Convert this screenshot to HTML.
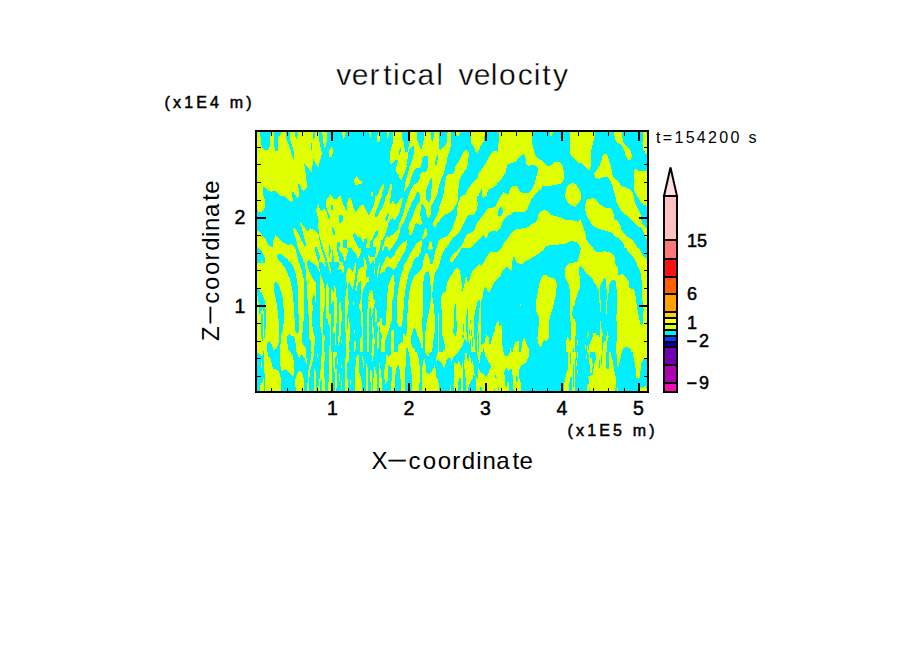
<!DOCTYPE html>
<html><head><meta charset="utf-8"><title>vertical velocity</title>
<style>
html,body{margin:0;padding:0;background:#fff;}
body{width:904px;height:654px;overflow:hidden;font-family:"Liberation Sans",sans-serif;}
svg{display:block;}
text{font-family:"Liberation Sans",sans-serif;fill:#000;}
.b{font-weight:bold;}
</style></head><body>
<svg width="904" height="654" viewBox="0 0 904 654">
<rect x="0" y="0" width="904" height="654" fill="#fff"/>
<!-- plot field -->
<g id="field" shape-rendering="crispEdges">
<rect x="256" y="131" width="392" height="261" fill="#dfff00"/>
<clipPath id="c0"><rect x="255" y="130" width="100" height="66"/></clipPath>
<g clip-path="url(#c0)"><rect x="255" y="130" width="100" height="66" fill="#dfff00"/>
<polygon fill="#00efff" points="260.3,131.8 260.8,143.3 262.7,148.8 264.4,149.9 268.3,149.7 269.9,145.5 270.5,135.5 271.0,131.8"/>
<polygon fill="#00efff" points="274.0,131.8 274.4,146.6 275.1,150.5 277.7,150.8 278.2,136.6 280.4,135.0 281.0,131.8"/>
<polygon fill="#00efff" points="285.8,131.8 286.2,138.3 288.2,143.3 292.1,155.4 293.7,159.9 294.3,153.8 292.6,147.1 290.4,141.1 289.8,131.8"/>
<polygon fill="#00efff" points="294.8,131.8 295.0,136.6 296.5,138.8 297.6,136.1 297.9,131.8"/>
<polygon fill="#00efff" points="311.1,143.1 310.9,149.9 312.0,149.9 312.2,143.1"/>
<polygon fill="#00efff" points="313.1,131.8 313.3,138.8 314.7,138.3 315.6,131.8"/>
<polygon fill="#00efff" points="319.2,131.8 319.4,141.1 320.3,146.6 321.9,152.1 321.4,156.0 319.2,163.2 318.6,167.1 316.9,165.4 313.3,159.0 312.7,163.2 311.6,172.0 310.3,170.9 308.1,167.6 304.2,164.1 305.3,169.8 306.1,178.7 307.0,183.1 306.8,187.5 304.2,190.8 302.0,190.3 299.2,183.1 298.1,184.2 298.7,189.7 299.2,196.0 355.0,196.0 355.0,131.8"/>
<polygon fill="#dfff00" points="322.3,131.8 323.0,142.2 324.7,148.8 325.8,146.6 326.9,138.8 327.1,131.8"/>
<polygon fill="#dfff00" points="331.3,147.1 329.3,150.5 328.9,156.5 331.9,157.1 333.0,152.1 333.0,147.7"/>
<polygon fill="#dfff00" points="341.8,131.8 343.3,139.4 344.6,136.6 345.7,131.8"/>
<polygon fill="#dfff00" points="354.0,179.2 354.0,182.9 355.0,182.9 355.0,179.2"/>
<polygon fill="#dfff00" points="328.0,196.0 329.1,195.0 330.8,195.3 331.3,196.0"/>
<polygon fill="#00efff" points="263.0,187.0 265.0,187.3 267.2,190.3 271.6,191.6 275.5,190.6 278.8,193.9 280.2,196.0 263.0,196.0"/>
<polygon fill="#00efff" points="292.1,192.2 293.2,191.9 296.2,196.0 292.1,196.0"/>
</g>
<clipPath id="c1"><rect x="355" y="130" width="100" height="66"/></clipPath>
<g clip-path="url(#c1)"><rect x="355" y="130" width="100" height="66" fill="#00efff"/>
<polygon fill="#dfff00" points="369.2,131.8 369.9,137.7 371.0,137.2 371.4,131.8"/>
<polygon fill="#dfff00" points="377.7,131.8 377.1,141.1 378.2,142.7 379.6,140.5 380.2,131.8"/>
<polygon fill="#dfff00" points="355.0,178.1 357.0,175.9 359.4,180.3 362.2,181.4 361.9,184.2 355.0,184.8"/>
<polygon fill="#dfff00" points="371.4,192.5 372.9,191.9 372.7,196.0 371.4,196.0"/>
<polygon fill="#dfff00" points="377.1,196.0 378.8,191.9 382.1,184.8 384.0,184.0 383.5,188.6 381.5,196.0"/>
<polygon fill="#dfff00" points="387.1,196.0 388.2,191.9 391.0,184.2 391.8,184.4 391.5,189.7 390.6,196.0"/>
<polygon fill="#dfff00" points="397.4,174.2 397.6,176.0 400.4,179.8 402.0,178.9 404.0,176.0 404.0,174.2"/>
<polygon fill="#dfff00" points="409.2,196.0 410.3,191.9 412.5,186.4 414.7,183.1 417.8,182.2 420.3,174.2 421.4,163.2 455.0,163.2 455.0,196.0"/>
<polygon fill="#dfff00" points="407.9,174.2 408.7,178.7 409.8,182.0 410.9,178.7 412.3,174.2"/>
<polygon fill="#00efff" points="415.8,196.0 417.5,191.4 419.4,196.0"/>
<polygon fill="#00efff" points="431.9,177.8 430.2,179.8 428.0,186.4 426.7,191.9 428.6,190.3 430.8,184.2 432.4,179.2"/>
<polygon fill="#00efff" points="443.5,172.0 443.1,176.0 441.3,182.0 439.6,189.7 438.8,196.0 443.5,196.0 444.4,187.5 446.2,176.0 446.8,172.0"/>
</g>
<clipPath id="c2"><rect x="385" y="130" width="70" height="46"/></clipPath>
<g clip-path="url(#c2)"><rect x="385" y="130" width="70" height="46" fill="#dfff00"/>
<polygon fill="#00efff" points="385.0,131.9 393.5,131.9 393.1,140.1 392.4,144.7 390.8,149.4 390.0,153.2 390.3,162.5 391.6,164.5 394.3,161.0 397.4,159.0 397.8,161.0 397.0,166.4 396.2,173.4 397.4,176.0 385.0,176.0"/>
<polygon fill="#dfff00" points="386.9,131.9 387.2,137.7 388.1,137.4 388.9,131.9"/>
<polygon fill="#00efff" points="401.9,131.9 402.4,139.3 404.0,143.9 405.0,151.7 407.5,152.5 408.2,148.6 410.2,140.8 410.2,131.9"/>
<polygon fill="#00efff" points="413.7,145.9 411.7,146.6 409.8,148.6 408.2,153.2 407.5,159.4 405.9,166.4 404.7,171.8 404.0,176.0 407.8,176.0 409.0,170.3 410.6,164.8 412.5,159.4 413.8,153.2 414.0,146.3"/>
<polygon fill="#00efff" points="416.7,131.9 417.1,140.1 419.1,144.7 421.4,149.7 422.2,146.3 423.7,140.8 424.1,131.9"/>
<polygon fill="#00efff" points="431.1,131.9 431.2,140.1 432.4,141.6 433.6,137.7 434.6,131.9"/>
<polygon fill="#00efff" points="439.2,131.9 439.2,149.4 440.4,149.7 443.9,147.0 446.2,144.7 446.9,140.1 447.6,131.9"/>
<polygon fill="#00efff" points="450.8,131.9 450.8,145.5 449.3,151.7 447.7,156.3 446.2,164.8 444.6,171.8 443.1,176.0 446.2,176.0 448.5,174.5 453.1,173.4 455.0,169.5 455.0,131.9"/>
<polygon fill="#00efff" points="423.7,156.3 428.0,155.9 428.0,162.5 427.6,168.7 425.3,171.8 422.2,172.2 420.2,176.0 412.1,176.0 414.0,170.3 416.0,167.6 419.1,167.0 420.2,167.9 421.4,164.1 422.2,158.7"/>
<polygon fill="#00efff" points="437.3,155.2 435.7,158.7 435.2,165.6 436.1,166.0 437.3,162.5 438.0,155.6"/>
<polygon fill="#00efff" points="400.1,148.2 399.1,151.7 398.9,154.8 399.9,154.8 400.9,150.9 401.0,148.4"/>
</g>
<clipPath id="c3"><rect x="455" y="130" width="100" height="66"/></clipPath>
<g clip-path="url(#c3)"><rect x="455" y="130" width="100" height="66" fill="#dfff00"/>
<polygon fill="#00efff" points="455.0,131.8 499.2,131.8 499.2,136.6 498.1,146.6 497.6,151.6 493.7,151.0 490.4,153.8 487.6,159.9 483.8,166.5 478.8,172.6 477.7,177.6 471.6,184.2 468.3,188.6 465.5,194.2 462.7,196.0 457.8,196.0 458.3,189.7 459.4,179.8 461.6,175.4 466.6,168.7 468.3,161.0 468.8,152.1 466.6,150.1 463.8,151.0 461.6,155.4 458.9,161.0 455.0,167.1"/>
<polygon fill="#dfff00" points="471.0,131.8 471.4,144.4 474.0,146.6 475.5,152.1 477.7,152.7 480.4,146.6 484.0,141.1 484.9,131.8"/>
<polygon fill="#dfff00" points="455.6,131.8 455.9,135.0 458.3,136.4 460.0,133.3 460.0,131.8"/>
<polygon fill="#00efff" points="531.9,131.8 532.4,144.4 534.1,152.1 536.9,157.7 542.4,161.0 546.8,165.4 549.6,166.0 555.0,162.1 555.0,131.8"/>
<polygon fill="#dfff00" points="550.1,131.8 550.4,136.1 552.3,135.5 552.9,131.8"/>
<polygon fill="#00efff" points="523.0,154.3 520.3,156.0 515.8,161.5 510.3,163.2 507.0,165.4 505.9,172.0 501.5,178.7 495.9,185.3 492.6,188.1 488.2,189.7 486.5,196.0 500.9,196.0 503.6,192.2 506.2,193.5 508.9,193.5 510.2,188.6 513.3,185.5 516.4,185.5 518.2,187.7 519.5,191.3 522.1,192.8 528.8,192.8 531.9,189.1 534.1,185.1 535.9,178.9 537.7,171.8 537.7,168.7 536.3,166.0 533.5,164.8 528.0,166.0 526.3,163.2 525.8,158.8 524.7,154.9"/>
<polygon fill="#00efff" points="555.0,185.3 552.2,185.5 546.0,186.0 542.9,185.5 540.7,189.5 537.2,192.2 533.0,196.0 555.0,196.0"/>
<polygon fill="#00efff" points="481.5,189.2 479.9,191.4 478.5,196.0 481.5,196.0 482.1,191.9"/>
</g>
<clipPath id="c4"><rect x="555" y="130" width="93" height="66"/></clipPath>
<g clip-path="url(#c4)"><rect x="555" y="130" width="93" height="66" fill="#00efff"/>
<polygon fill="#dfff00" points="570.5,131.8 569.9,153.2 571.6,156.5 578.2,162.6 581.5,163.2 584.9,166.0 588.2,170.4 590.2,169.8 591.0,163.2 591.3,149.9 593.2,142.2 594.6,136.6 594.6,131.8"/>
<polygon fill="#dfff00" points="555.0,161.5 559.4,161.5 562.2,164.3 563.8,170.9 563.8,179.8 561.1,183.7 555.0,184.8"/>
<polygon fill="#dfff00" points="565.0,196.0 566.1,188.6 568.8,184.2 572.1,182.9 576.0,184.2 578.8,188.6 581.0,193.1 581.0,196.0"/>
<polygon fill="#dfff00" points="604.8,153.8 602.6,156.0 599.8,165.4 595.9,170.9 594.3,173.7 595.4,178.1 599.2,178.7 603.7,177.0 607.5,177.0 610.3,180.9 612.5,186.4 615.3,196.0 634.1,196.0 632.4,191.9 628.0,188.1 621.4,185.9 618.1,180.9 614.2,177.6 612.0,174.2 611.4,167.6 608.7,159.3 606.8,154.6"/>
<polygon fill="#dfff00" points="614.2,131.8 614.7,138.8 616.9,142.7 621.4,144.9 624.1,149.9 625.8,156.5 628.6,160.4 631.3,160.4 631.9,154.9 630.2,149.9 626.9,146.6 623.6,143.3 622.5,137.7 622.3,131.8"/>
<polygon fill="#dfff00" points="642.9,131.8 643.5,140.0 642.4,143.3 643.5,149.9 646.8,154.9 647.4,131.8"/>
<polygon fill="#dfff00" points="634.1,170.4 636.3,168.7 639.1,171.5 647.0,170.9 647.0,196.0 636.9,196.0 634.1,189.7"/>
</g>
<clipPath id="c5"><rect x="255" y="196" width="100" height="66"/></clipPath>
<g clip-path="url(#c5)"><rect x="255" y="196" width="100" height="66" fill="#00efff"/>
<polygon fill="#dfff00" points="256.8,196.0 263.8,196.0 265.0,201.5 264.7,208.2 261.6,212.6 258.3,211.5 256.8,208.2"/>
<polygon fill="#dfff00" points="284.9,196.0 288.2,199.9 291.5,201.8 293.2,200.4 292.1,196.0"/>
<polygon fill="#dfff00" points="295.9,196.0 297.6,197.7 299.0,197.1 298.7,196.0"/>
<polygon fill="#dfff00" points="256.8,231.2 259.4,231.4 262.7,235.8 266.1,240.2 269.4,246.3 272.7,246.9 273.3,240.2 275.5,235.3 279.3,238.6 283.8,243.0 288.2,244.7 291.5,244.1 294.3,245.8 297.0,251.3 299.2,256.3 303.7,259.6 307.0,262.0 265.5,262.0 265.2,259.1 263.3,254.1 260.0,249.1 256.8,245.8"/>
<polygon fill="#00efff" points="277.1,255.7 278.8,253.5 281.0,253.5 286.0,257.9 289.3,262.0 280.4,262.0 277.7,259.1"/>
<polygon fill="#dfff00" points="261.1,262.0 261.6,261.0 263.0,261.3 263.3,262.0"/>
<polygon fill="#dfff00" points="318.6,204.3 316.9,207.1 316.2,210.4 317.5,215.9 318.6,218.1 355.0,218.1 355.0,209.3 352.9,202.6 351.2,198.2 349.0,198.2 347.9,202.6 347.4,210.4 343.5,206.0 341.8,200.4 340.2,196.0 337.4,199.3 334.1,199.3 331.3,196.0 328.0,197.1 326.3,200.4 326.3,207.1 327.5,211.5 324.1,208.2 322.5,210.4 321.4,211.5 319.7,208.2"/>
<polygon fill="#00efff" points="330.8,205.4 333.0,204.8 333.5,209.3 331.9,210.9 330.8,208.7"/>
<polygon fill="#00efff" points="339.6,215.9 342.4,215.4 342.9,218.7 341.3,222.5 339.3,222.5 339.1,218.7"/>
<polygon fill="#00efff" points="325.8,209.3 326.9,209.1 329.7,215.9 330.2,218.7 328.9,218.1 326.9,213.7"/>
</g>
<clipPath id="c6"><rect x="285" y="216" width="70" height="46"/></clipPath>
<g clip-path="url(#c6)"><rect x="285" y="216" width="70" height="46" fill="#dfff00"/>
<polygon fill="#00efff" points="285.0,216.0 317.9,216.0 318.7,220.6 318.1,226.1 318.9,232.3 317.5,232.6 315.6,231.1 311.7,228.8 310.2,228.0 308.6,231.5 305.9,229.2 302.8,225.3 300.5,222.0 300.1,223.7 301.6,227.6 302.8,232.3 304.4,238.5 305.9,243.1 306.1,246.6 304.4,245.8 301.6,240.8 298.9,234.6 296.6,230.3 294.3,228.2 293.1,229.9 294.7,235.4 296.6,240.8 297.8,247.0 298.9,250.1 300.5,253.9 302.4,257.8 303.2,262.0 298.6,262.0 297.4,256.3 295.8,250.1 294.3,246.2 292.0,244.3 288.5,244.7 285.0,244.3"/>
<polygon fill="#00efff" points="285.0,257.8 286.9,258.2 288.5,260.5 288.9,262.0 285.0,262.0"/>
<polygon fill="#00efff" points="318.3,231.5 319.5,236.1 321.4,243.1 323.7,250.1 326.0,256.3 327.4,262.0 325.7,262.0 323.7,255.5 321.4,248.5 319.8,241.6 318.5,235.4"/>
<polygon fill="#00efff" points="315.2,247.0 316.7,247.0 318.3,251.6 319.8,256.3 319.1,262.0 317.9,262.0 316.7,256.3 315.2,250.8"/>
<polygon fill="#00efff" points="307.1,262.0 308.2,259.4 309.8,260.5 310.2,262.0"/>
<polygon fill="#00efff" points="328.8,245.0 329.9,245.0 330.7,250.1 330.3,256.3 329.1,256.7 328.8,250.8"/>
<polygon fill="#00efff" points="337.0,244.7 339.6,241.2 341.1,243.1 342.3,247.0 340.8,249.3 339.2,250.8 340.8,253.9 343.1,257.0 344.6,260.5 346.2,260.1 346.9,252.4 349.3,245.4 350.8,245.0 352.4,250.8 355.0,251.6 355.0,262.0 339.6,262.0 338.4,254.7 337.3,249.3"/>
<polygon fill="#00efff" points="343.1,240.4 346.9,239.1 347.3,245.4 346.2,247.7 344.2,248.1 343.1,244.7"/>
<polygon fill="#00efff" points="353.1,232.6 355.0,231.9 355.0,239.2 353.5,238.5 352.8,235.4"/>
<polygon fill="#00efff" points="331.8,227.2 333.0,226.8 334.9,231.5 334.9,235.0 333.4,235.0 332.2,231.5"/>
<polygon fill="#00efff" points="339.2,216.8 340.4,216.0 342.7,216.0 343.2,219.1 341.5,222.6 339.6,222.8 339.0,219.9"/>
<polygon fill="#00efff" points="328.0,216.0 330.1,216.0 329.8,219.1 328.4,217.5"/>
<polygon fill="#00efff" points="331.5,249.3 332.4,249.3 333.6,256.3 334.2,262.0 332.4,262.0 331.8,256.3"/>
</g>
<clipPath id="c7"><rect x="335" y="196" width="80" height="52"/></clipPath>
<g clip-path="url(#c7)"><rect x="335" y="196" width="80" height="52" fill="#dfff00"/>
<polygon fill="#00efff" points="335.0,196.0 339.0,196.0 337.2,198.2 335.0,199.7"/>
<polygon fill="#00efff" points="340.3,196.0 341.6,198.7 343.8,205.7 346.1,210.2 347.4,211.9 347.2,204.0 348.3,198.7 350.9,198.2 352.3,202.2 353.1,207.5 355.4,211.9 357.1,211.0 359.3,206.6 361.5,204.8 363.8,205.3 365.5,209.3 368.6,215.0 371.3,210.6 373.5,205.7 374.8,201.3 375.9,196.0"/>
<polygon fill="#00efff" points="339.4,215.5 341.6,215.0 343.1,217.2 342.5,220.8 340.8,223.0 339.0,222.5 338.7,218.1"/>
<polygon fill="#00efff" points="336.8,248.0 336.9,244.2 339.0,241.0 339.9,242.0 339.4,248.0"/>
<polygon fill="#00efff" points="343.4,240.1 345.6,239.2 346.9,239.8 346.9,248.0 343.4,248.0"/>
<polygon fill="#00efff" points="354.0,232.1 353.1,234.9 354.0,238.5 356.2,242.9 358.5,248.0 365.5,248.0 366.9,242.0 366.7,238.3 364.6,238.9 363.3,242.7 362.0,240.2 360.8,237.2 357.6,236.7 356.1,234.5"/>
<polygon fill="#00efff" points="376.6,230.1 377.9,230.1 377.5,234.1 375.3,238.5 373.1,242.0 373.1,248.0 370.4,248.0 369.1,245.6 371.3,242.9 373.9,237.6 375.7,233.2"/>
<polygon fill="#00efff" points="385.6,235.0 392.0,235.0 388.1,242.0 384.6,248.0 381.0,248.0 381.9,243.8 383.7,238.5"/>
<polygon fill="#00efff" points="396.2,235.0 408.8,235.0 407.6,240.2 405.8,240.2 402.3,243.8 397.8,248.0 388.1,248.0 391.6,242.0"/>
<polygon fill="#00efff" points="412.8,235.0 415.0,235.0 415.0,248.0 407.6,248.0 407.6,242.0 410.2,238.5"/>
</g>
<clipPath id="c8"><rect x="375" y="196" width="60" height="39"/></clipPath>
<g clip-path="url(#c8)"><rect x="375" y="196" width="60" height="39" fill="#00efff"/>
<polygon fill="#dfff00" points="375.0,196.0 382.0,196.0 380.3,199.3 379.0,204.0 377.0,209.3 375.0,213.9"/>
<polygon fill="#dfff00" points="385.6,196.0 390.9,196.0 390.3,200.0 390.1,204.6 391.3,204.0 392.6,201.0 394.9,202.6 396.6,204.0 398.6,202.0 400.6,199.0 402.2,198.0 402.9,199.3 401.9,203.3 400.9,207.3 399.6,211.3 398.2,214.6 396.2,217.9 394.6,219.9 392.6,218.2 390.9,218.9 389.3,221.2 387.9,225.2 386.6,229.8 385.6,235.0 378.0,235.0 377.7,230.5 376.3,231.8 375.0,233.8 375.0,216.9 377.0,216.6 378.7,213.9 380.3,210.6 382.3,207.3 384.0,204.0 385.0,200.0"/>
<polygon fill="#00efff" points="388.6,212.9 387.3,214.3 385.6,217.9 385.0,220.2 386.3,220.9 387.9,218.2 388.9,215.2"/>
<polygon fill="#dfff00" points="408.2,196.0 414.8,196.0 414.2,199.3 412.2,202.6 410.2,206.6 408.2,211.3 406.2,216.6 404.2,221.9 401.5,225.9 399.6,230.5 397.6,233.2 396.2,235.0 391.9,235.0 394.2,233.2 396.9,231.2 398.6,227.2 399.2,223.9 401.2,219.2 402.9,214.6 404.2,210.6 405.2,206.0 406.9,201.3"/>
<polygon fill="#dfff00" points="420.1,196.0 426.1,196.0 426.4,199.3 428.8,203.0 431.4,201.0 432.1,198.7 431.4,196.0 435.0,196.0 435.0,200.0 432.7,202.0 431.7,206.6 431.4,212.6 430.4,217.2 429.1,217.9 427.1,215.2 426.1,211.3 425.1,207.3 423.8,204.0 422.1,203.0 420.8,205.3 420.1,210.6 420.1,217.9 421.8,220.2 422.1,222.5 420.8,224.9 418.5,224.9 417.8,223.2 416.1,223.2 414.8,225.9 413.5,229.8 412.8,235.0 408.8,235.0 408.2,229.2 408.8,224.5 410.8,220.6 412.8,215.9 414.8,209.9 416.8,205.3 418.8,202.0 419.8,199.3"/>
<polygon fill="#dfff00" points="423.1,235.0 423.1,229.2 424.4,228.2 425.8,228.9 426.8,230.5 426.8,235.0"/>
<polygon fill="#dfff00" points="435.0,220.9 434.1,221.6 433.1,223.9 433.3,226.9 435.0,227.2"/>
</g>
<clipPath id="c9"><rect x="415" y="196" width="80" height="52"/></clipPath>
<g clip-path="url(#c9)"><rect x="415" y="196" width="80" height="52" fill="#00efff"/>
<polygon fill="#dfff00" points="415.0,209.3 417.2,204.8 419.9,200.9 420.3,196.0 426.1,196.0 426.5,200.0 428.3,202.6 430.9,200.9 431.8,196.0 436.2,196.0 435.8,199.5 433.1,202.2 431.4,205.7 430.9,213.7 430.0,217.2 428.3,217.7 426.5,215.0 425.6,209.3 423.8,204.8 422.1,203.5 420.8,206.6 420.3,213.7 420.8,218.1 422.1,222.5 420.8,224.8 418.5,224.3 416.8,223.0 415.0,223.9"/>
<polygon fill="#dfff00" points="442.9,196.0 458.4,196.0 457.9,200.4 456.2,204.8 453.1,209.3 450.0,212.8 447.7,213.7 445.1,214.1 442.4,217.2 439.3,220.8 436.7,224.3 435.8,226.5 433.6,226.5 433.1,223.4 435.4,218.1 437.1,215.5 438.9,209.3 440.2,203.1 441.5,198.7"/>
<polygon fill="#dfff00" points="461.0,196.0 476.9,196.0 477.4,200.4 477.8,204.8 476.5,210.2 474.3,214.6 471.6,215.0 468.1,215.5 465.9,219.0 463.2,224.3 461.0,228.7 459.2,232.3 456.6,234.9 453.1,237.6 450.4,241.1 448.2,245.1 446.4,248.0 437.1,248.0 437.6,243.8 438.9,240.2 441.1,238.0 445.1,237.2 447.7,235.4 450.8,231.4 453.1,226.1 455.7,219.0 457.0,213.7 457.5,206.6 458.8,201.3"/>
<polygon fill="#dfff00" points="481.8,196.0 483.6,197.8 484.9,196.0"/>
<polygon fill="#dfff00" points="495.0,207.1 492.0,207.9 489.3,207.5 487.1,208.8 484.9,212.8 481.4,217.2 477.8,221.7 476.1,225.2 475.2,228.7 473.0,231.4 469.9,233.2 466.8,234.9 464.6,238.5 463.2,242.9 461.0,246.4 459.2,248.0 470.3,248.0 472.5,245.6 476.9,242.0 480.5,238.5 483.6,234.9 485.8,238.5 487.1,236.7 488.5,233.2 490.7,231.4 495.0,230.1"/>
<polygon fill="#dfff00" points="423.4,229.2 424.7,228.0 426.1,229.2 426.9,232.3 426.5,235.8 424.3,237.6 422.5,238.9 422.1,236.7 423.0,233.2"/>
<polygon fill="#dfff00" points="415.0,244.2 418.5,241.1 421.6,240.2 421.9,248.0 415.0,248.0"/>
<polygon fill="#dfff00" points="428.3,248.0 429.2,242.9 430.5,241.1 431.8,242.0 432.7,248.0"/>
</g>
<clipPath id="c10"><rect x="495" y="196" width="80" height="52"/></clipPath>
<g clip-path="url(#c10)"><rect x="495" y="196" width="80" height="52" fill="#dfff00"/>
<polygon fill="#00efff" points="495.0,196.0 500.8,196.0 498.5,200.4 496.3,204.8 495.0,206.2"/>
<polygon fill="#00efff" points="533.9,196.0 564.9,196.0 565.8,199.5 568.5,203.1 572.0,205.7 575.0,206.6 575.0,221.2 572.9,219.5 568.5,219.5 564.9,219.5 560.5,217.2 556.1,216.4 551.6,215.0 549.0,212.8 546.8,210.6 543.2,210.2 540.1,212.4 538.4,215.0 537.5,219.0 535.7,222.1 532.2,223.9 528.6,227.0 525.5,227.9 521.5,228.7 516.7,228.7 513.6,231.0 510.0,234.9 507.4,239.4 504.3,242.0 503.0,245.6 501.2,248.0 495.0,248.0 495.0,231.0 497.2,231.8 500.3,228.7 502.1,223.4 503.8,219.5 507.4,215.9 510.9,214.6 514.0,211.9 525.1,211.8 527.3,209.3 529.1,204.8 531.3,199.5"/>
<polygon fill="#00efff" points="499.0,207.9 501.2,207.1 503.0,209.3 502.5,212.8 501.2,215.5 498.5,215.9 498.1,211.9"/>
<polygon fill="#00efff" points="575.0,241.6 571.1,241.1 568.5,242.0 564.9,244.2 558.7,244.5 549.9,245.1 546.3,246.4 545.0,248.0 575.0,248.0"/>
</g>
<clipPath id="c11"><rect x="575" y="196" width="73" height="52"/></clipPath>
<g clip-path="url(#c11)"><rect x="575" y="196" width="73" height="52" fill="#00efff"/>
<polygon fill="#dfff00" points="575.0,196.0 581.2,196.0 580.8,200.0 577.7,204.0 575.0,207.1"/>
<polygon fill="#dfff00" points="593.6,198.2 595.8,199.1 598.5,203.1 602.4,206.2 606.0,207.9 610.4,207.9 612.6,210.6 613.9,215.5 614.4,219.0 618.4,221.7 620.1,225.2 621.5,229.6 623.7,233.2 626.3,236.3 629.9,238.0 633.4,241.1 636.9,246.4 637.4,248.0 624.6,248.0 623.7,244.2 621.0,240.2 617.5,237.6 613.9,235.8 612.6,233.2 608.6,231.8 604.2,230.1 599.8,229.2 594.9,227.0 591.4,223.4 588.3,218.6 586.5,214.6 585.2,210.2 585.2,205.7 586.1,200.4 587.4,199.1"/>
<polygon fill="#dfff00" points="575.0,221.2 578.1,221.7 580.8,218.6 581.6,222.5 583.4,227.9 585.6,234.1 586.5,240.2 589.6,243.8 593.1,248.0 580.3,248.0 579.0,244.2 576.8,242.5 575.0,242.0"/>
<polygon fill="#dfff00" points="615.3,196.0 633.8,196.0 634.3,200.4 636.1,205.7 638.7,210.2 640.9,215.0 641.4,220.8 642.3,224.3 645.8,227.0 647.0,227.9 647.0,240.2 645.8,237.6 644.5,234.9 643.1,231.4 641.8,227.9 638.3,226.5 635.2,223.9 631.6,219.9 628.1,216.4 623.7,213.3 620.6,210.2 618.4,205.7 616.2,201.8"/>
<polygon fill="#dfff00" points="636.9,196.0 647.0,196.0 647.0,205.7 643.6,204.8 640.9,202.2 638.7,198.7"/>
</g>
<clipPath id="c12"><rect x="335" y="248" width="80" height="52"/></clipPath>
<g clip-path="url(#c12)"><rect x="335" y="248" width="80" height="52" fill="#00efff"/>
<polygon fill="#dfff00" points="335.0,248.0 336.8,248.0 337.7,253.3 339.0,257.7 338.5,261.3 336.8,262.6 335.0,262.6"/>
<polygon fill="#dfff00" points="338.1,259.9 340.3,262.2 343.0,265.7 343.8,269.2 343.7,272.8 342.1,272.3 341.2,269.2 339.4,265.7 338.1,263.0"/>
<polygon fill="#dfff00" points="339.0,248.0 347.4,248.0 347.8,251.5 346.5,256.0 345.6,260.4 344.3,260.8 343.4,256.8 341.6,253.3 339.9,250.7"/>
<polygon fill="#dfff00" points="351.4,248.0 360.7,248.0 361.1,251.5 359.8,255.1 358.0,258.6 357.1,256.8 356.2,253.3 354.0,251.5 352.3,249.8"/>
<polygon fill="#dfff00" points="363.3,258.6 364.6,257.9 366.0,261.3 366.9,265.7 366.4,271.0 365.5,276.3 366.4,278.1 368.2,277.0 369.1,278.1 368.8,281.6 366.9,282.5 365.5,285.2 363.3,289.6 362.4,294.0 362.0,300.0 361.1,300.0 361.4,292.2 360.7,285.2 361.5,281.6 360.7,280.3 358.5,283.4 357.1,286.9 356.7,290.9 355.4,289.6 355.8,285.2 357.1,279.0 357.6,274.5 358.5,270.1 360.7,267.9 362.0,267.0 363.3,267.9 364.0,263.9"/>
<polygon fill="#dfff00" points="346.9,268.8 349.2,268.2 350.9,269.2 352.7,271.9 354.0,268.4 354.9,264.4 355.8,263.0 356.1,267.5 355.4,273.7 354.5,279.9 353.6,286.1 352.7,289.2 351.4,286.9 349.6,283.4 348.3,283.0 347.8,286.9 346.9,294.0 347.4,300.0 344.9,300.0 345.2,291.4 346.1,283.4 346.1,273.7"/>
<polygon fill="#dfff00" points="368.2,255.1 370.0,256.4 372.6,257.3 374.4,255.5 374.8,259.5 373.9,261.7 371.7,262.2 370.8,263.9 369.1,261.3 368.5,257.7"/>
<polygon fill="#dfff00" points="373.5,267.0 374.8,267.0 375.0,273.7 373.5,273.7"/>
<polygon fill="#dfff00" points="378.8,263.0 380.1,263.5 379.2,268.4 378.4,273.7 377.9,277.2 377.0,276.3 377.5,270.1"/>
<polygon fill="#dfff00" points="381.9,248.0 384.1,248.0 383.2,251.5 382.3,251.1"/>
<polygon fill="#dfff00" points="387.2,248.0 391.6,248.0 390.3,250.7 388.8,253.3 389.0,256.4 390.3,258.6 393.4,255.1 396.9,250.7 398.3,248.0 405.8,248.0 405.4,252.4 403.1,256.8 400.5,261.3 397.8,264.8 395.2,267.9 393.4,269.7 390.8,267.0 388.5,265.3 387.2,266.1 385.4,269.2 384.1,272.8 382.8,271.5 381.0,273.7 380.1,275.0 380.6,270.1 382.3,264.8 384.6,259.5 386.8,254.2 387.7,250.7"/>
<polygon fill="#dfff00" points="374.8,255.5 377.0,252.4 379.2,248.0 381.0,248.0 378.8,252.4 376.6,256.8 375.3,259.5"/>
<polygon fill="#dfff00" points="415.0,248.0 412.9,249.8 410.2,254.2 407.6,259.5 404.9,265.7 402.3,271.9 400.5,277.2 399.2,283.4 398.3,289.6 397.4,295.8 396.9,300.0 404.0,300.0 404.9,294.0 405.8,286.9 407.1,280.7 408.5,274.5 410.2,269.2 412.4,264.8 415.0,260.4"/>
<polygon fill="#dfff00" points="393.4,274.1 394.1,277.2 394.7,283.4 393.8,289.6 393.4,300.0 387.2,300.0 387.7,288.7 389.0,283.4 390.8,279.0 392.1,275.9"/>
<polygon fill="#dfff00" points="415.0,275.4 413.3,278.1 411.5,283.4 410.2,287.8 408.9,294.0 408.5,300.0 415.0,300.0"/>
<polygon fill="#dfff00" points="368.2,300.0 368.6,294.9 370.4,291.4 371.7,289.2 372.9,291.4 373.1,297.6 373.9,300.0"/>
<polygon fill="#dfff00" points="335.0,288.3 335.9,288.7 336.3,294.0 336.8,300.0 335.0,300.0"/>
</g>
<clipPath id="c13"><rect x="415" y="248" width="80" height="52"/></clipPath>
<g clip-path="url(#c13)"><rect x="415" y="248" width="80" height="52" fill="#00efff"/>
<polygon fill="#dfff00" points="415.0,248.0 421.9,248.0 420.8,252.4 418.1,256.0 415.0,257.7"/>
<polygon fill="#dfff00" points="428.3,248.0 429.2,249.3 432.3,249.6 433.1,248.0"/>
<polygon fill="#dfff00" points="436.2,248.0 445.5,248.0 443.3,252.4 441.1,256.8 439.8,263.0 438.5,267.5 435.8,271.0 434.5,275.4 433.6,281.6 432.7,288.7 432.3,295.8 432.7,300.0 415.0,300.0 415.0,275.0 417.2,274.1 419.4,271.0 422.1,268.4 423.1,263.9 423.8,257.7 425.2,253.8 426.5,253.3 427.8,256.0 429.2,260.4 430.5,263.9 432.3,263.5 433.6,259.5 434.9,253.3"/>
<polygon fill="#00efff" points="428.3,271.2 426.5,271.7 424.7,274.5 423.8,279.0 423.1,283.4 423.0,300.0 431.4,300.0 430.9,292.2 430.5,285.2 430.0,278.1 429.2,273.7"/>
<polygon fill="#dfff00" points="460.6,248.0 459.2,248.0 456.6,251.5 453.9,253.8 451.3,256.0 450.1,259.1 450.4,261.7 451.7,262.6 453.9,260.4 456.2,256.8 458.4,253.3 460.6,249.8"/>
<polygon fill="#dfff00" points="457.0,268.2 458.8,269.2 460.3,271.9 461.0,278.1 461.9,285.2 461.5,290.5 461.9,293.0 463.2,289.6 464.6,283.4 465.4,277.6 466.5,277.2 467.2,280.7 468.1,283.0 469.4,279.9 470.8,275.4 472.1,271.9 474.3,268.8 476.9,266.1 479.6,264.4 481.4,265.7 483.6,263.0 485.8,258.6 488.0,254.6 489.8,252.2 495.0,252.0 495.0,281.6 492.9,285.2 490.7,289.6 488.9,292.7 487.1,290.5 485.8,286.9 484.5,287.8 483.1,292.2 482.3,300.0 441.1,300.0 441.5,296.2 443.3,293.1 445.5,291.8 446.4,286.9 447.7,281.6 449.1,278.1 452.2,274.5 453.9,271.0 455.7,268.8"/>
</g>
<clipPath id="c14"><rect x="495" y="248" width="80" height="52"/></clipPath>
<g clip-path="url(#c14)"><rect x="495" y="248" width="80" height="52" fill="#00efff"/>
<polygon fill="#dfff00" points="495.0,252.0 498.1,251.5 501.2,248.0 544.1,248.0 543.7,249.8 540.1,252.4 535.7,255.5 530.4,258.6 525.1,261.3 522.9,263.9 520.7,264.6 518.0,263.0 516.2,262.2 514.9,257.3 513.1,257.0 512.3,262.2 511.8,269.2 510.5,270.8 508.7,267.9 506.5,267.0 504.3,269.2 502.1,271.5 500.8,275.4 497.7,279.0 495.0,280.9"/>
<polygon fill="#dfff00" points="543.7,275.0 546.3,275.0 549.0,277.2 553.4,278.1 556.1,280.7 556.9,284.3 556.1,292.2 555.2,300.0 536.2,300.0 537.5,294.0 538.4,288.7 539.7,281.6 541.5,277.6"/>
<polygon fill="#dfff00" points="575.0,262.2 572.0,263.0 568.5,263.5 566.2,266.6 564.5,271.0 564.5,276.3 566.7,279.9 568.5,284.3 569.8,290.5 570.2,300.0 575.0,300.0"/>
</g>
<clipPath id="c15"><rect x="575" y="248" width="73" height="52"/></clipPath>
<g clip-path="url(#c15)"><rect x="575" y="248" width="73" height="52" fill="#00efff"/>
<polygon fill="#dfff00" points="575.0,262.2 577.7,261.3 579.4,254.2 581.2,248.0 593.1,248.0 595.4,251.1 598.5,252.4 601.5,252.2 604.6,251.1 608.6,252.0 611.7,253.3 614.4,256.4 615.3,263.9 617.9,267.5 618.4,275.4 621.9,274.1 624.1,275.4 626.3,278.1 628.5,281.2 629.4,287.8 633.4,289.2 634.7,291.4 636.1,300.0 617.0,300.0 616.6,290.5 616.2,281.2 613.1,279.9 610.4,281.6 609.1,285.2 608.6,291.8 608.2,300.0 606.9,300.0 606.4,285.2 606.0,279.4 604.6,278.1 602.4,280.7 600.7,284.3 599.8,289.6 600.2,300.0 598.9,300.0 598.5,289.6 596.2,285.2 594.0,282.1 592.7,279.0 589.2,275.4 586.5,273.7 583.4,269.2 580.3,266.1 579.0,267.0 579.2,271.9 579.9,279.9 579.9,287.8 577.7,293.1 575.4,300.0 575.0,300.0"/>
<polygon fill="#dfff00" points="626.3,248.0 639.2,248.0 640.9,251.5 643.1,256.0 647.0,259.9 647.0,300.0 642.3,300.0 641.8,289.6 641.4,276.3 640.0,271.0 637.8,266.6 635.6,261.3 633.0,256.8 629.0,252.9 627.2,250.2"/>
</g>
<clipPath id="c16"><rect x="255" y="262" width="80" height="52"/></clipPath>
<g clip-path="url(#c16)"><rect x="255" y="262" width="80" height="52" fill="#dfff00"/>
<polygon fill="#00efff" points="256.9,262.0 265.6,262.0 263.8,262.9 256.9,263.1"/>
<polygon fill="#00efff" points="280.2,262.0 284.2,266.4 286.9,271.7 289.1,277.0 290.8,282.4 292.2,288.5 293.1,295.6 293.5,301.8 293.9,314.0 298.4,314.0 298.4,301.8 297.9,293.0 297.5,285.0 296.6,277.9 295.3,271.7 293.1,266.4 290.4,262.0"/>
<polygon fill="#00efff" points="299.2,262.0 301.9,269.1 303.5,276.2 304.1,285.0 304.6,292.1 305.0,299.2 305.0,306.2 304.6,314.0 306.8,314.0 306.8,308.0 307.2,301.8 307.2,293.0 308.1,292.1 307.9,285.0 307.7,276.2 306.8,269.1 305.4,262.0"/>
<polygon fill="#00efff" points="274.0,282.8 275.8,281.9 278.0,283.7 280.2,288.5 282.0,294.7 283.3,301.8 283.8,314.0 278.0,314.0 277.1,306.2 275.8,299.2 274.5,293.0 273.8,287.7"/>
<polygon fill="#00efff" points="256.9,288.5 258.1,289.0 260.3,291.2 262.5,294.7 264.3,299.2 265.4,304.5 265.6,314.0 263.8,314.0 263.4,309.8 262.1,308.9 261.2,311.6 260.8,314.0 259.4,314.0 259.0,306.2 258.1,299.2 256.9,293.0"/>
</g>
<clipPath id="c17"><rect x="300" y="262" width="50" height="52"/></clipPath>
<g clip-path="url(#c17)"><rect x="300" y="262" width="50" height="52" fill="#00efff"/>
<polygon fill="#dfff00" points="300.0,266.8 300.8,267.2 302.0,272.3 303.6,277.9 304.4,289.8 304.4,301.7 304.0,314.0 300.0,314.0"/>
<polygon fill="#dfff00" points="304.4,262.0 306.8,262.0 307.6,266.8 309.5,272.3 311.9,277.1 313.9,280.7 315.5,281.9 315.9,289.8 315.7,301.7 314.9,301.3 314.7,297.0 313.9,293.8 312.7,295.4 312.3,301.7 312.7,308.1 312.7,310.5 311.9,314.0 307.9,314.0 307.6,301.7 307.2,289.8 306.4,279.5 305.6,269.9 304.8,264.4"/>
<polygon fill="#dfff00" points="311.1,262.0 319.1,262.0 319.1,266.0 319.9,271.5 321.5,277.1 323.4,282.7 325.0,289.8 325.4,297.8 325.0,304.9 323.8,306.5 323.4,314.0 319.9,314.0 320.0,301.7 320.3,289.8 320.3,277.9 319.5,272.3 317.9,268.4 315.9,265.2 312.7,263.2"/>
<polygon fill="#dfff00" points="321.9,262.0 323.8,262.0 325.4,264.4 325.8,266.4 324.6,266.0 323.1,263.6"/>
<polygon fill="#dfff00" points="327.4,262.0 329.0,262.0 330.2,266.8 331.0,270.7 330.6,272.7 329.8,272.3 329.0,268.4 327.8,264.4"/>
<polygon fill="#dfff00" points="327.4,282.3 328.0,285.1 329.0,288.2 329.4,297.8 329.4,314.0 325.8,314.0 326.1,301.7 326.2,292.2 326.2,285.8 326.6,284.3"/>
<polygon fill="#dfff00" points="331.4,289.0 332.6,289.8 333.4,292.6 334.2,290.6 334.2,286.2 335.0,285.8 335.8,289.8 336.2,294.6 337.0,300.2 337.2,314.0 334.2,314.0 334.2,306.5 333.8,301.0 332.6,301.7 331.8,304.9 331.2,303.3 331.0,295.4"/>
<polygon fill="#dfff00" points="338.6,262.0 342.9,262.0 343.7,266.8 343.9,272.3 342.5,272.7 341.3,269.9 339.7,268.0 339.0,269.9 338.2,269.6 338.0,268.0 339.3,266.8 339.6,264.4"/>
<polygon fill="#dfff00" points="340.1,302.1 340.9,302.5 341.2,308.9 342.0,311.3 342.0,314.0 339.0,314.0 339.1,306.5 339.3,304.1"/>
<polygon fill="#dfff00" points="350.0,268.0 348.1,268.4 346.9,270.7 346.1,274.7 346.5,281.9 346.9,286.6 346.1,291.4 345.3,297.8 345.3,314.0 348.1,314.0 348.3,301.7 347.7,293.8 347.7,285.8 348.1,282.7 350.0,282.3"/>
</g>
<clipPath id="c18"><rect x="335" y="300" width="80" height="52"/></clipPath>
<g clip-path="url(#c18)"><rect x="335" y="300" width="80" height="52" fill="#00efff"/>
<polygon fill="#dfff00" points="335.0,300.0 336.8,300.0 336.8,322.1 335.9,324.8 335.9,344.2 335.0,346.0"/>
<polygon fill="#dfff00" points="339.0,304.4 340.3,301.8 341.0,302.2 341.2,310.6 341.9,311.5 341.9,320.4 341.2,323.0 340.8,335.4 339.9,337.2 339.4,343.4 338.4,345.1 338.1,337.2 339.0,333.6 339.2,317.7"/>
<polygon fill="#dfff00" points="341.0,339.8 341.9,339.8 341.9,342.9 341.0,342.9"/>
<polygon fill="#dfff00" points="344.7,300.0 348.3,300.0 349.0,301.8 348.7,304.4 348.1,304.9 347.8,313.3 346.9,314.2 346.9,317.3 348.3,316.8 349.0,320.4 350.0,324.8 350.5,331.9 350.0,339.8 349.2,341.6 349.6,352.0 346.1,352.0 346.3,341.6 346.1,332.7 345.2,331.0 344.9,317.7 344.9,308.8"/>
<polygon fill="#00efff" points="346.9,317.3 348.1,317.0 348.3,329.2 346.9,329.6"/>
<polygon fill="#dfff00" points="352.7,301.8 354.0,301.8 354.0,304.9 352.7,304.9"/>
<polygon fill="#dfff00" points="354.0,330.1 355.2,330.1 355.2,333.2 354.0,333.2"/>
<polygon fill="#dfff00" points="354.0,341.2 355.2,341.6 356.1,344.2 355.8,347.8 354.9,352.0 353.8,352.0"/>
<polygon fill="#dfff00" points="360.2,300.0 361.8,300.0 361.8,311.5 362.6,312.4 363.1,316.8 362.9,330.1 362.6,337.2 363.1,352.0 360.2,352.0 360.5,338.1 361.5,337.2 361.7,325.7 360.7,324.8 360.5,310.6 359.1,308.8 359.1,304.4 360.2,304.0"/>
<polygon fill="#dfff00" points="366.9,308.8 369.1,308.8 369.1,352.0 367.3,352.0 367.0,335.4"/>
<polygon fill="#dfff00" points="368.2,300.9 369.7,300.9 369.7,308.8 368.2,308.8"/>
<polygon fill="#dfff00" points="370.0,300.0 374.8,300.0 374.4,305.3 373.1,308.8 372.2,315.0 371.3,316.4 370.8,310.6 370.4,305.3"/>
<polygon fill="#dfff00" points="371.7,316.8 372.6,317.7 373.5,326.5 373.9,337.2 374.6,338.1 374.4,352.0 372.2,352.0 372.6,335.4 372.2,326.5"/>
<polygon fill="#dfff00" points="374.8,308.0 376.2,308.4 376.8,311.5 377.0,321.7 375.5,321.7 375.3,313.3"/>
<polygon fill="#dfff00" points="380.1,318.1 381.5,319.0 381.9,323.9 383.2,326.5 385.4,326.1 385.9,322.1 386.3,311.5 387.2,309.7 387.2,300.0 392.1,300.0 392.1,317.7 391.2,322.1 389.9,326.5 388.1,332.7 386.3,337.2 385.0,341.6 384.6,352.0 381.2,352.0 381.2,342.5 381.9,334.5 380.6,333.6 380.3,326.5 379.2,325.7 379.2,335.4 378.8,347.8 377.5,349.1 377.3,335.4 377.9,326.5 377.0,324.8 377.5,323.0 379.1,322.1 380.0,323.0"/>
<polygon fill="#dfff00" points="392.1,330.1 393.8,330.1 394.1,352.0 390.8,352.0 390.9,332.7"/>
<polygon fill="#dfff00" points="396.9,300.0 404.0,300.0 403.6,308.8 403.0,317.7 401.8,325.7 400.0,327.0 398.3,325.7 397.4,322.1"/>
<polygon fill="#dfff00" points="408.5,300.0 415.0,300.0 415.0,327.4 412.9,330.1 411.5,335.4 411.1,342.5 412.0,346.9 414.2,349.1 415.0,347.8 415.0,352.0 407.6,352.0 407.7,347.8 406.2,347.8 405.8,352.0 397.8,352.0 398.0,345.1 400.5,342.9 402.7,341.6 403.1,334.5 404.9,334.1 405.4,335.8 406.7,332.7 407.1,325.7 407.4,315.0"/>
</g>
<clipPath id="c19"><rect x="415" y="300" width="80" height="52"/></clipPath>
<g clip-path="url(#c19)"><rect x="415" y="300" width="80" height="52" fill="#dfff00"/>
<polygon fill="#00efff" points="423.0,300.0 430.9,300.0 430.2,304.4 429.2,310.6 427.8,316.8 426.5,323.0 425.6,329.2 425.2,337.2 424.7,352.0 420.3,352.0 421.6,348.7 422.8,348.2 422.8,335.4 422.1,326.5 422.1,320.4 423.0,313.3"/>
<polygon fill="#00efff" points="415.0,329.2 416.1,329.6 416.9,334.5 419.2,338.5 420.8,344.2 421.6,348.7 420.3,352.0 415.0,352.0"/>
<polygon fill="#00efff" points="433.1,300.0 441.1,300.0 441.5,308.8 442.0,322.1 442.4,335.4 443.8,339.8 445.1,347.8 444.9,349.7 443.3,349.7 443.1,352.0 432.3,352.0 432.7,344.2 434.0,335.4 435.2,330.1 434.9,317.7 433.8,307.1"/>
<polygon fill="#dfff00" points="438.0,313.3 439.1,313.1 439.3,352.0 438.0,352.0"/>
<polygon fill="#00efff" points="454.8,304.0 455.9,304.0 456.2,313.3 456.6,323.0 456.8,331.0 455.9,335.4 454.8,335.8 453.5,332.7 453.1,329.2 453.9,326.5 454.1,310.6"/>
<polygon fill="#00efff" points="467.2,308.8 468.1,308.8 467.9,317.7 468.1,331.0 468.5,339.8 468.8,341.6 467.7,341.6 466.8,339.8 466.3,326.5 466.5,315.0"/>
<polygon fill="#00efff" points="469.9,319.9 470.9,319.9 470.9,323.9 469.9,323.9"/>
<polygon fill="#00efff" points="463.1,323.9 463.9,323.9 463.9,331.9 463.1,331.9"/>
<polygon fill="#00efff" points="462.1,335.0 463.8,335.0 463.8,337.6 462.1,337.6"/>
<polygon fill="#00efff" points="478.3,300.0 476.9,304.4 475.2,310.6 474.1,317.7 473.8,328.3 474.3,337.2 475.2,346.0 475.6,352.0 476.9,352.0 476.9,346.0 477.4,333.6 478.3,326.5 478.7,317.7 479.2,310.6 480.0,303.5 480.3,300.0"/>
<polygon fill="#00efff" points="481.2,300.0 495.0,300.0 495.0,331.9 493.3,333.6 492.0,338.1 491.1,343.8 489.3,343.8 488.9,337.2 486.7,335.0 485.4,338.1 484.9,342.5 483.1,344.2 481.2,344.7"/>
<polygon fill="#00efff" points="464.6,338.9 467.2,341.6 469.4,342.5 470.3,352.0 458.4,352.0 460.1,348.7 462.8,345.1 463.7,341.6"/>
<polygon fill="#00efff" points="469.4,329.2 470.3,329.2 470.6,342.5 471.2,352.0 469.9,352.0"/>
<polygon fill="#00efff" points="471.2,330.1 472.1,330.5 472.5,337.2 473.0,346.0 472.5,346.5 471.6,337.2"/>
<polygon fill="#00efff" points="478.2,333.2 478.7,333.2 478.9,352.0 478.0,352.0"/>
<polygon fill="#00efff" points="483.1,348.2 484.0,348.2 484.0,352.0 483.1,352.0"/>
</g>
<clipPath id="c20"><rect x="495" y="300" width="80" height="52"/></clipPath>
<g clip-path="url(#c20)"><rect x="495" y="300" width="80" height="52" fill="#00efff"/>
<polygon fill="#dfff00" points="536.2,300.0 553.8,300.0 553.8,303.5 552.5,308.8 550.8,313.7 549.9,317.7 549.0,321.2 548.8,337.2 547.7,339.8 545.9,341.2 544.6,339.8 542.8,341.6 541.9,346.0 540.6,346.9 538.8,344.7 537.9,341.6 537.3,337.2 538.4,333.6 538.4,328.3 539.2,317.7 537.9,314.2 536.4,311.5"/>
<polygon fill="#dfff00" points="495.0,328.3 496.1,323.9 498.5,321.1 499.0,325.7 501.4,325.0 501.9,329.2 501.6,339.8 502.8,347.8 503.0,352.0 495.0,352.0"/>
<polygon fill="#dfff00" points="513.1,352.0 514.0,344.2 515.8,342.0 518.5,341.2 519.1,345.1 519.1,352.0"/>
<polygon fill="#dfff00" points="521.1,352.0 522.0,344.2 523.3,339.8 524.4,337.2 525.5,340.7 527.3,346.0 529.1,349.6 529.1,352.0"/>
<polygon fill="#dfff00" points="510.0,348.2 511.1,348.5 511.6,352.0 510.0,352.0"/>
<polygon fill="#dfff00" points="520.0,304.0 521.1,304.0 521.1,306.0 520.0,306.0"/>
<polygon fill="#dfff00" points="570.2,300.0 575.0,300.0 575.0,304.4 573.3,306.2 572.4,311.5 572.4,315.9 573.3,318.6 575.0,319.0 575.0,352.0 573.9,352.0 573.8,348.2 572.9,347.8 572.4,352.0 566.2,352.0 566.1,341.6 567.1,337.2 568.5,338.1 568.9,340.7 570.0,341.6 571.1,338.9 570.7,323.0 570.0,313.3"/>
</g>
<clipPath id="c21"><rect x="575" y="300" width="73" height="52"/></clipPath>
<g clip-path="url(#c21)"><rect x="575" y="300" width="73" height="52" fill="#00efff"/>
<polygon fill="#dfff00" points="617.0,300.0 636.1,300.0 636.9,305.3 637.8,311.5 639.2,318.6 640.5,323.9 641.8,325.7 643.1,323.0 643.6,308.8 642.7,302.7 642.3,300.0 647.0,300.0 647.0,352.0 631.6,352.0 630.8,349.1 628.5,347.8 626.3,346.9 623.2,348.2 621.5,352.0 616.2,352.0 616.6,339.8 617.0,322.1 616.2,320.4 616.2,315.9 617.0,314.2"/>
<polygon fill="#dfff00" points="575.0,322.1 575.9,322.1 575.9,336.3 575.0,336.7"/>
<polygon fill="#dfff00" points="599.3,300.0 600.8,300.0 601.1,312.4 600.0,312.4 599.8,306.2"/>
<polygon fill="#dfff00" points="606.0,300.0 607.0,300.0 607.0,313.7 606.0,313.7"/>
<polygon fill="#dfff00" points="600.2,321.2 601.1,321.2 601.4,328.3 602.4,331.9 602.9,335.4 602.0,337.2 601.5,352.0 586.5,352.0 586.9,347.8 587.4,346.0 588.1,346.9 588.3,350.4 589.2,349.6 589.2,344.2 590.9,341.6 592.3,338.9 592.7,335.4 594.0,332.3 595.4,333.2 596.7,335.4 598.7,335.0 599.1,337.2 600.2,335.4"/>
<polygon fill="#dfff00" points="588.3,332.0 589.0,332.3 588.7,335.4 587.8,337.6 586.9,337.6 587.2,335.0"/>
<polygon fill="#dfff00" points="606.9,332.3 607.9,332.3 608.2,335.4 609.1,335.8 608.6,337.2 607.9,338.1 607.3,342.5 606.9,352.0 602.4,352.0 603.1,344.2 604.6,341.2 606.0,341.6 606.4,337.2"/>
<polygon fill="#dfff00" points="576.9,340.3 577.8,340.3 577.8,344.7 576.9,344.7"/>
<polygon fill="#dfff00" points="585.2,345.1 586.1,345.1 586.1,348.7 585.2,348.7"/>
</g>
<clipPath id="c22"><rect x="255" y="314" width="80" height="52"/></clipPath>
<g clip-path="url(#c22)"><rect x="255" y="314" width="80" height="52" fill="#dfff00"/>
<polygon fill="#00efff" points="261.2,314.0 263.0,314.0 263.0,340.5 261.6,340.5 261.2,327.3"/>
<polygon fill="#00efff" points="263.8,314.0 266.1,314.0 265.6,322.8 265.4,336.1 264.3,338.8 263.8,327.3"/>
<polygon fill="#00efff" points="278.0,314.0 284.2,314.0 283.8,321.1 282.9,329.9 281.5,334.4 280.7,340.5 280.2,349.4 280.0,358.2 279.8,366.0 272.3,366.0 271.4,360.0 269.2,357.4 268.1,356.5 267.4,351.2 267.4,345.9 266.9,343.2 269.2,341.0 271.4,343.6 272.7,347.6 273.6,350.7 274.9,350.3 277.1,346.7 278.5,343.2 279.1,331.7 278.7,321.1"/>
<polygon fill="#00efff" points="293.9,314.0 299.2,314.0 299.2,322.8 299.1,330.8 297.9,333.9 295.7,332.6 295.0,327.3 294.8,319.3"/>
<polygon fill="#00efff" points="289.1,333.9 290.4,335.2 291.7,336.6 293.9,336.1 294.6,337.9 295.5,343.2 296.2,349.4 296.6,352.9 297.5,354.7 298.8,358.2 299.7,359.1 300.6,357.4 301.0,354.3 302.8,353.8 304.1,356.5 305.0,360.0 306.3,363.6 307.2,366.0 293.9,366.0 293.5,358.2 292.2,354.7 290.0,352.1 288.2,349.4 287.6,345.0 286.9,339.7 287.0,336.6"/>
<polygon fill="#00efff" points="304.1,314.0 309.0,314.0 309.2,322.8 309.4,331.7 309.2,338.8 310.8,340.5 311.2,349.4 311.6,355.6 310.8,357.4 310.3,366.0 307.2,366.0 306.3,360.0 305.9,349.4 305.0,346.7 303.2,344.1 302.3,342.3 302.3,333.5 303.2,325.5 303.7,318.4"/>
<polygon fill="#00efff" points="312.1,314.0 320.0,314.0 320.0,325.5 320.9,328.2 321.4,332.6 322.4,340.5 322.1,349.4 321.5,366.0 314.1,366.0 314.3,353.8 314.5,345.0 314.7,336.1 313.8,334.4 313.0,331.7 312.3,324.6"/>
<polygon fill="#00efff" points="323.0,314.0 325.8,314.0 326.2,317.5 328.0,320.2 328.5,323.7 329.8,326.4 330.2,333.5 329.8,340.5 329.3,349.4 329.3,366.0 324.0,366.0 324.0,349.4 324.5,340.5 324.9,336.1 323.6,335.2 322.7,329.9"/>
<polygon fill="#00efff" points="330.7,314.0 333.8,314.0 333.8,326.4 332.9,327.3 333.1,332.6 334.2,333.0 335.0,331.7 335.0,366.0 331.3,366.0 331.1,349.4 331.1,336.1 330.9,324.6"/>
<polygon fill="#dfff00" points="316.9,354.3 318.0,354.3 318.0,356.9 316.9,356.9"/>
<polygon fill="#00efff" points="256.9,352.1 259.0,353.8 261.0,356.5 263.0,355.6 263.1,351.2 263.8,351.2 263.8,366.0 262.1,366.0 261.9,362.2 261.0,362.2 260.8,366.0 256.9,366.0"/>
</g>
<clipPath id="c23"><rect x="255" y="352" width="80" height="40"/></clipPath>
<g clip-path="url(#c23)"><rect x="255" y="352" width="80" height="40" fill="#00efff"/>
<polygon fill="#dfff00" points="256.9,352.0 263.0,352.0 262.5,355.5 261.2,356.4 259.9,354.2 258.5,353.3 256.9,352.9"/>
<polygon fill="#dfff00" points="261.0,362.2 261.9,362.2 261.9,366.6 261.0,366.6"/>
<polygon fill="#dfff00" points="264.3,352.0 268.3,352.0 268.3,356.4 269.6,357.3 270.9,359.5 271.8,365.3 273.1,368.4 275.8,369.3 278.5,371.0 279.8,374.1 281.1,378.5 281.5,391.0 265.2,391.0 264.9,378.5 264.3,369.7 264.0,360.8"/>
<polygon fill="#dfff00" points="280.2,352.0 290.4,352.0 293.1,356.4 293.9,363.5 293.9,375.0 292.6,375.9 290.4,374.1 288.2,371.9 285.5,369.3 283.3,370.1 281.5,371.5 280.7,368.8 280.2,360.8"/>
<polygon fill="#dfff00" points="299.2,371.0 301.0,371.5 302.8,375.0 303.7,378.5 304.1,391.0 296.2,391.0 295.3,385.6 295.5,378.5 296.6,375.0 297.9,372.8"/>
<polygon fill="#dfff00" points="296.6,352.0 305.9,352.0 306.3,355.5 306.8,360.8 307.0,364.4 305.9,363.5 305.0,359.1 303.2,356.4 301.9,354.2 300.6,355.5 299.7,358.6 298.4,356.9 297.5,354.2"/>
<polygon fill="#dfff00" points="311.6,352.0 313.8,352.0 313.4,357.3 312.1,363.5 310.3,369.7 309.4,378.5 309.0,391.0 307.2,391.0 307.7,378.5 308.5,369.7 309.9,362.6 311.2,357.3"/>
<polygon fill="#dfff00" points="314.5,369.3 315.6,371.5 316.1,378.5 316.5,387.4 316.1,391.0 314.1,391.0 313.8,380.3 313.8,373.2"/>
<polygon fill="#dfff00" points="316.9,353.8 318.0,353.8 318.0,356.9 316.9,356.9"/>
<polygon fill="#dfff00" points="321.8,352.0 324.9,352.0 324.5,360.8 324.0,369.7 324.5,378.5 324.9,391.0 322.3,391.0 321.8,383.0 321.4,377.7 320.5,381.2 320.0,391.0 318.3,391.0 318.5,385.6 319.6,378.5 320.5,369.7 321.2,360.8"/>
<polygon fill="#dfff00" points="328.9,352.0 331.5,352.0 331.5,391.0 328.3,391.0 328.6,378.5 328.9,365.3"/>
<polygon fill="#dfff00" points="332.9,352.0 335.0,352.0 335.0,373.2 333.8,371.5 333.1,360.8"/>
<polygon fill="#dfff00" points="260.3,391.0 260.1,385.6 260.8,383.9 262.1,383.0 263.4,379.0 264.0,379.4 263.7,383.9 263.8,391.0"/>
</g>
<clipPath id="c24"><rect x="335" y="352" width="80" height="40"/></clipPath>
<g clip-path="url(#c24)"><rect x="335" y="352" width="80" height="40" fill="#00efff"/>
<polygon fill="#dfff00" points="335.0,352.0 336.9,352.0 336.8,356.4 335.0,356.9"/>
<polygon fill="#dfff00" points="335.0,369.3 336.8,369.3 336.9,383.0 336.3,391.0 335.0,391.0"/>
<polygon fill="#dfff00" points="336.9,359.1 338.1,359.1 338.1,363.5 336.9,363.5"/>
<polygon fill="#dfff00" points="341.0,365.3 342.1,365.3 342.1,367.9 341.0,367.9"/>
<polygon fill="#dfff00" points="339.0,374.1 340.0,374.1 340.0,381.2 339.0,381.2"/>
<polygon fill="#dfff00" points="341.0,381.2 342.1,381.2 342.1,388.7 341.0,388.7"/>
<polygon fill="#dfff00" points="346.1,352.0 349.0,352.0 348.7,360.8 347.4,363.5 346.9,369.7 347.2,378.5 348.1,380.3 348.1,391.0 344.9,391.0 345.2,378.5 345.2,360.8"/>
<polygon fill="#dfff00" points="349.9,380.3 350.9,380.3 350.9,384.7 349.9,384.7"/>
<polygon fill="#dfff00" points="356.9,355.5 358.9,355.1 359.1,362.6 358.7,372.4 360.2,374.1 361.5,381.2 362.0,391.0 355.2,391.0 355.4,378.5 355.4,367.9 356.1,359.1"/>
<polygon fill="#dfff00" points="362.0,356.0 363.1,356.4 363.8,360.0 364.2,367.5 363.1,367.5 362.6,360.8"/>
<polygon fill="#dfff00" points="366.0,364.4 367.0,364.4 367.3,367.0 368.2,367.9 368.2,391.0 366.2,391.0 366.0,378.5"/>
<polygon fill="#dfff00" points="370.2,370.1 371.7,371.0 372.0,391.0 370.8,391.0 370.4,378.5"/>
<polygon fill="#dfff00" points="373.9,367.0 375.3,367.9 375.9,373.2 376.8,375.0 377.3,391.0 373.2,391.0 373.5,378.5"/>
<polygon fill="#dfff00" points="379.1,363.1 380.1,363.1 380.6,369.7 381.5,377.7 381.9,391.0 379.2,391.0 379.2,378.5"/>
<polygon fill="#dfff00" points="371.3,353.8 372.6,352.0 373.9,352.0 373.5,356.4 373.1,360.8 372.2,360.8 372.0,357.3"/>
<polygon fill="#dfff00" points="384.1,375.0 384.6,367.9 385.9,362.6 386.3,355.5 388.1,355.1 388.1,357.3 390.3,355.5 391.6,352.0 405.8,352.0 405.8,360.8 405.4,369.7 404.9,391.0 400.9,391.0 400.5,378.5 399.6,369.7 398.3,364.4 396.9,367.0 396.1,369.7 395.2,376.8 394.3,391.0 391.2,391.0 391.6,378.5 392.1,367.0 390.3,366.6 389.0,364.4 388.1,367.9 387.7,371.5 388.1,380.3 386.8,382.1 385.4,383.9 384.6,380.3"/>
<polygon fill="#dfff00" points="409.3,352.0 415.0,352.0 415.0,391.0 412.0,391.0 412.0,378.5 411.1,369.7 409.8,360.8"/>
</g>
<clipPath id="c25"><rect x="415" y="352" width="80" height="40"/></clipPath>
<g clip-path="url(#c25)"><rect x="415" y="352" width="80" height="40" fill="#00efff"/>
<polygon fill="#dfff00" points="415.0,352.0 416.8,352.0 418.1,356.4 419.4,362.6 419.9,374.1 419.4,385.6 419.0,391.0 415.0,391.0"/>
<polygon fill="#dfff00" points="423.8,358.2 424.9,359.1 425.6,365.3 426.1,372.4 428.3,373.9 430.9,373.2 433.1,368.8 434.5,364.8 435.8,369.7 436.2,376.8 438.0,380.3 438.9,385.6 439.1,391.0 422.1,391.0 422.3,378.5 422.1,369.7 423.0,362.6"/>
<polygon fill="#dfff00" points="425.2,352.0 426.1,355.1 427.4,356.4 429.2,355.5 429.6,352.0"/>
<polygon fill="#dfff00" points="437.6,352.0 437.1,355.5 436.2,358.2 436.4,360.8 438.5,360.0 440.7,361.7 442.9,365.3 444.2,367.9 445.1,366.2 446.0,360.8 448.2,358.2 450.8,358.4 451.3,360.8 452.2,360.0 453.9,356.4 456.6,353.8 458.8,352.0"/>
<polygon fill="#dfff00" points="454.4,363.5 455.7,363.1 457.0,363.9 458.4,360.8 459.2,359.5 459.7,363.5 461.0,365.3 461.9,367.9 462.3,362.6 463.2,362.2 463.5,369.7 463.2,378.5 462.8,391.0 461.0,391.0 461.0,378.5 460.1,376.8 459.2,378.5 458.4,381.2 458.2,391.0 453.9,391.0 453.5,385.6 453.9,378.5 454.8,376.8 453.9,373.2 453.8,367.0"/>
<polygon fill="#dfff00" points="451.5,360.8 452.3,360.8 452.3,371.9 451.5,371.9"/>
<polygon fill="#dfff00" points="450.0,385.2 450.8,385.2 450.8,391.0 450.0,391.0"/>
<polygon fill="#dfff00" points="465.4,352.9 466.8,352.9 467.2,359.1 468.5,360.8 469.4,359.1 469.4,354.7 470.3,354.2 470.8,362.6 471.6,363.5 472.5,360.8 473.4,363.5 473.8,369.7 473.4,376.8 471.6,380.3 469.9,383.0 468.5,387.4 468.1,391.0 466.3,391.0 465.9,378.5 464.6,374.1 464.4,360.8"/>
<polygon fill="#dfff00" points="484.9,352.0 485.8,357.3 488.5,361.7 490.2,363.5 491.1,367.0 489.8,369.7 488.5,373.2 486.7,375.9 485.4,376.8 483.6,374.1 482.7,372.4 481.8,375.0 480.5,372.4 479.2,369.7 478.3,367.9 477.8,374.1 477.4,381.2 476.9,391.0 495.0,391.0 495.0,352.0"/>
<polygon fill="#00efff" points="480.0,387.0 482.3,387.0 482.3,391.0 480.0,391.0"/>
<polygon fill="#00efff" points="492.9,365.7 493.9,365.7 493.9,367.0 492.9,367.0"/>
<polygon fill="#00efff" points="494.2,389.2 495.0,388.7 495.0,391.0 494.2,391.0"/>
<polygon fill="#dfff00" points="476.9,352.0 481.4,352.0 480.9,355.5 480.0,355.1 479.6,360.0 480.5,363.5 480.0,364.4 478.7,361.7 478.0,357.3 477.4,354.7"/>
<polygon fill="#dfff00" points="474.1,374.1 475.2,374.1 475.2,376.3 474.1,376.3"/>
<polygon fill="#dfff00" points="476.1,376.8 476.9,377.7 476.8,391.0 475.6,391.0 475.9,383.0"/>
</g>
<clipPath id="c26"><rect x="495" y="352" width="80" height="40"/></clipPath>
<g clip-path="url(#c26)"><rect x="495" y="352" width="80" height="40" fill="#00efff"/>
<polygon fill="#dfff00" points="495.0,352.0 529.1,352.0 528.6,356.4 527.3,360.0 525.5,363.5 521.5,365.3 519.8,367.5 519.1,371.5 519.3,378.5 520.7,383.0 521.1,391.0 495.0,391.0"/>
<polygon fill="#00efff" points="504.3,352.0 509.6,352.0 509.2,354.7 507.4,356.4 505.2,356.4 504.3,354.7"/>
<polygon fill="#00efff" points="504.7,369.3 506.1,368.4 507.8,368.8 508.3,371.0 509.2,369.7 511.8,369.3 512.3,373.2 513.1,378.5 513.6,391.0 509.2,391.0 509.0,383.0 507.4,382.1 506.5,387.4 505.6,388.3 505.2,378.5 504.3,374.1"/>
<polygon fill="#00efff" points="516.1,376.3 517.6,376.8 517.8,380.3 516.9,382.5 516.1,382.1"/>
<polygon fill="#00efff" points="495.0,374.1 495.9,375.0 496.8,377.7 495.0,378.5"/>
<polygon fill="#00efff" points="497.7,387.0 499.0,387.4 499.0,391.0 497.7,391.0"/>
<polygon fill="#dfff00" points="568.5,352.0 575.0,352.0 575.0,391.0 572.0,391.0 571.8,378.5 571.1,374.1 570.2,378.5 568.9,385.6 568.5,391.0 564.0,391.0 564.2,385.6 564.9,378.5 565.8,375.9 567.6,369.7 568.5,364.4 568.0,357.3"/>
<polygon fill="#00efff" points="570.2,352.9 570.9,352.9 570.9,363.5 570.2,363.5"/>
<polygon fill="#00efff" points="572.7,364.4 573.6,364.4 573.6,387.4 572.7,387.4"/>
</g>
<clipPath id="c27"><rect x="575" y="352" width="73" height="40"/></clipPath>
<g clip-path="url(#c27)"><rect x="575" y="352" width="73" height="40" fill="#00efff"/>
<polygon fill="#dfff00" points="575.0,352.0 575.9,352.0 575.9,359.1 575.0,359.5"/>
<polygon fill="#dfff00" points="576.3,360.0 576.9,360.0 576.9,365.7 576.3,365.7"/>
<polygon fill="#dfff00" points="576.9,352.0 577.8,352.0 577.8,358.2 576.9,358.2"/>
<polygon fill="#dfff00" points="576.9,370.1 577.8,370.1 577.8,373.7 576.9,373.7"/>
<polygon fill="#dfff00" points="594.9,352.0 605.5,352.0 605.8,367.9 606.9,368.8 608.6,368.8 609.1,352.0 610.4,352.0 611.7,357.3 613.1,362.6 613.9,369.7 615.3,375.0 616.2,380.3 615.7,385.6 615.3,391.0 589.6,391.0 589.2,381.2 588.3,377.7 588.3,375.9 590.9,375.7 593.1,374.1 593.8,366.2 594.9,360.8 596.2,358.6 595.8,354.7"/>
<polygon fill="#00efff" points="598.5,357.3 599.3,357.3 600.2,367.9 599.1,367.9"/>
<polygon fill="#00efff" points="600.8,355.5 601.5,354.7 601.7,365.3 600.8,365.3"/>
<polygon fill="#dfff00" points="586.1,354.7 587.4,354.7 587.4,358.6 586.1,358.6"/>
<polygon fill="#dfff00" points="588.3,352.0 589.6,352.0 590.0,357.3 590.9,360.8 591.8,357.3 592.3,360.8 592.7,365.3 591.8,373.2 590.5,373.2 590.0,367.9 589.2,360.8"/>
<polygon fill="#dfff00" points="587.2,391.0 587.4,385.6 588.5,383.9 589.0,391.0"/>
<polygon fill="#dfff00" points="616.2,352.0 621.9,352.0 621.0,355.5 619.7,360.8 619.1,366.2 617.9,367.0 617.0,365.3 617.3,359.1"/>
<polygon fill="#dfff00" points="633.0,352.0 647.0,352.0 647.0,358.2 644.0,358.6 642.3,360.8 640.9,365.3 640.5,371.5 640.0,377.7 638.3,379.0 636.5,377.7 636.1,371.5 635.2,365.3 633.8,359.1"/>
<polygon fill="#dfff00" points="640.0,391.0 640.3,387.8 641.4,387.0 642.3,387.8 643.6,387.0 644.9,385.2 645.8,387.0 647.0,388.3 647.0,391.0"/>
<polygon fill="#dfff00" points="617.0,387.8 617.9,387.8 617.9,391.0 617.0,391.0"/>
</g>
<clipPath id="c28"><rect x="390" y="165" width="60" height="39"/></clipPath>
<g clip-path="url(#c28)"><rect x="390" y="165" width="60" height="39" fill="#00efff"/>
<polygon fill="#dfff00" points="396.6,165.0 406.9,165.0 406.3,168.3 404.6,172.3 402.9,176.3 401.6,179.6 400.3,179.3 398.6,175.6 396.6,173.0 396.0,169.0"/>
<polygon fill="#dfff00" points="409.9,165.0 421.2,165.0 420.5,167.0 419.2,167.7 416.5,168.0 414.9,169.0 413.6,171.6 412.2,175.0 410.9,178.3 409.9,182.9 408.9,185.6 406.6,188.2 404.9,191.5 404.3,192.9 403.9,190.9 404.9,185.6 405.9,180.3 407.6,175.0 408.6,170.3 409.4,167.0"/>
<polygon fill="#dfff00" points="428.5,165.0 445.4,165.0 445.1,169.0 443.8,173.6 441.8,177.6 440.1,182.3 438.8,186.9 437.8,191.5 436.5,196.2 434.5,200.2 432.5,204.0 417.9,204.0 419.2,202.2 420.5,199.5 420.2,196.2 419.2,192.9 418.2,190.9 416.5,193.5 414.9,196.9 413.2,200.2 411.2,204.0 405.9,204.0 406.9,200.8 408.3,196.9 409.2,193.5 411.2,189.6 412.9,186.2 414.6,183.9 417.9,182.6 419.2,180.3 419.9,177.6 420.2,175.0 421.5,172.6 424.5,172.0 426.5,171.0 427.5,168.3"/>
<polygon fill="#00efff" points="431.8,177.9 432.5,182.3 431.7,187.6 431.1,192.9 430.8,198.2 429.8,201.5 428.5,202.5 426.8,200.8 426.2,198.2 425.8,191.5 426.8,187.6 428.5,183.6 429.8,179.9"/>
<polygon fill="#dfff00" points="450.0,174.3 448.4,174.0 446.7,175.3 445.8,178.3 445.1,182.9 444.4,187.6 443.8,192.9 442.4,198.2 441.1,202.2 440.4,204.0 450.0,204.0"/>
<polygon fill="#dfff00" points="390.0,184.2 391.5,183.9 391.7,188.2 391.0,193.5 390.7,197.9 390.0,198.2"/>
<polygon fill="#dfff00" points="397.0,204.0 398.3,202.2 400.0,199.5 401.6,197.9 402.6,198.2 402.3,200.8 401.3,204.0"/>
<polygon fill="#dfff00" points="391.3,204.0 392.0,201.5 393.0,200.8 394.0,201.8 394.6,204.0"/>
</g>
<clipPath id="c29"><rect x="370" y="228" width="60" height="39"/></clipPath>
<g clip-path="url(#c29)"><rect x="370" y="228" width="60" height="39" fill="#00efff"/>
<polygon fill="#dfff00" points="370.0,228.0 386.9,228.0 386.6,230.7 385.3,234.0 383.9,237.3 382.6,239.9 381.3,240.6 380.6,243.9 380.0,247.9 379.0,251.2 377.6,254.5 376.3,257.2 375.0,259.2 374.8,263.8 374.0,263.8 373.7,260.5 372.3,261.2 371.3,263.8 370.0,264.2 370.0,256.9 372.7,257.2 374.6,257.2 375.6,253.2 376.3,247.2 373.3,246.9 373.0,241.9 370.0,241.9"/>
<polygon fill="#00efff" points="377.0,230.0 378.0,230.3 378.1,234.6 376.6,236.6 374.6,239.3 373.0,241.9 370.0,242.3 370.0,241.6 372.3,239.0 373.7,236.0 375.0,232.6"/>
<polygon fill="#dfff00" points="386.9,236.3 389.2,237.0 391.2,235.6 393.2,234.3 395.2,232.6 397.2,230.7 398.5,228.7 399.9,228.0 400.2,230.0 399.2,234.0 397.9,238.0 396.2,241.3 394.6,243.9 392.6,246.6 390.6,249.2 389.2,251.2 388.3,249.9 387.6,247.2 385.9,246.3 384.3,246.6 383.6,249.2 382.9,251.9 382.3,250.6 382.3,247.2 383.6,245.3 384.3,241.3 385.6,238.0"/>
<polygon fill="#dfff00" points="406.8,240.3 406.8,245.3 405.8,249.2 404.2,252.6 402.2,255.9 399.9,259.9 397.9,263.2 396.5,267.0 389.2,267.0 388.3,265.2 387.3,267.0 381.9,267.0 382.9,263.8 384.3,261.2 385.6,257.9 387.6,255.9 389.2,257.2 390.6,258.9 392.6,257.2 394.6,254.5 396.2,250.6 398.5,247.2 401.2,243.9 403.8,241.9"/>
<polygon fill="#dfff00" points="408.2,228.0 414.1,228.0 413.1,231.3 412.1,234.6 409.5,235.0 409.2,231.3"/>
<polygon fill="#dfff00" points="425.1,228.0 426.1,228.0 426.9,230.7 426.7,235.3 424.8,237.6 423.1,239.0 422.1,238.6 422.4,236.3 423.8,234.0 424.4,230.7"/>
<polygon fill="#dfff00" points="421.8,240.3 421.8,244.6 421.1,249.2 420.4,253.2 417.8,256.5 415.1,258.5 413.1,261.8 411.5,267.0 403.2,267.0 404.8,263.8 406.8,260.5 408.5,257.2 410.5,253.2 412.5,249.9 414.5,246.6 416.5,243.3 419.1,241.3"/>
<polygon fill="#dfff00" points="430.0,241.9 429.1,242.3 428.9,246.6 428.1,247.9 428.7,249.6 430.0,249.9"/>
<polygon fill="#dfff00" points="426.4,253.2 427.7,254.5 429.1,258.5 430.0,260.5 430.0,267.0 422.4,267.0 423.1,262.5 424.1,257.2 425.1,254.2"/>
<polygon fill="#dfff00" points="378.3,267.0 379.0,263.8 379.8,263.2 380.0,267.0"/>
</g>
</g>
<!-- frame -->
<rect x="256" y="131" width="392" height="261" fill="none" stroke="#000" stroke-width="2" shape-rendering="crispEdges"/>
<g fill="#000" shape-rendering="crispEdges"><rect x="271" y="388" width="1" height="3"/><rect x="271" y="132" width="1" height="4"/><rect x="287" y="388" width="1" height="3"/><rect x="287" y="132" width="1" height="4"/><rect x="302" y="388" width="1" height="3"/><rect x="302" y="132" width="1" height="4"/><rect x="317" y="388" width="1" height="3"/><rect x="317" y="132" width="1" height="4"/><rect x="331" y="383" width="2" height="8"/><rect x="331" y="132" width="2" height="9"/><rect x="348" y="388" width="1" height="3"/><rect x="348" y="132" width="1" height="4"/><rect x="363" y="388" width="1" height="3"/><rect x="363" y="132" width="1" height="4"/><rect x="379" y="388" width="1" height="3"/><rect x="379" y="132" width="1" height="4"/><rect x="394" y="388" width="1" height="3"/><rect x="394" y="132" width="1" height="4"/><rect x="408" y="383" width="2" height="8"/><rect x="408" y="132" width="2" height="9"/><rect x="425" y="388" width="1" height="3"/><rect x="425" y="132" width="1" height="4"/><rect x="440" y="388" width="1" height="3"/><rect x="440" y="132" width="1" height="4"/><rect x="455" y="388" width="1" height="3"/><rect x="455" y="132" width="1" height="4"/><rect x="470" y="388" width="1" height="3"/><rect x="470" y="132" width="1" height="4"/><rect x="485" y="383" width="2" height="8"/><rect x="485" y="132" width="2" height="9"/><rect x="501" y="388" width="1" height="3"/><rect x="501" y="132" width="1" height="4"/><rect x="516" y="388" width="1" height="3"/><rect x="516" y="132" width="1" height="4"/><rect x="532" y="388" width="1" height="3"/><rect x="532" y="132" width="1" height="4"/><rect x="547" y="388" width="1" height="3"/><rect x="547" y="132" width="1" height="4"/><rect x="561" y="383" width="2" height="8"/><rect x="561" y="132" width="2" height="9"/><rect x="578" y="388" width="1" height="3"/><rect x="578" y="132" width="1" height="4"/><rect x="593" y="388" width="1" height="3"/><rect x="593" y="132" width="1" height="4"/><rect x="608" y="388" width="1" height="3"/><rect x="608" y="132" width="1" height="4"/><rect x="624" y="388" width="1" height="3"/><rect x="624" y="132" width="1" height="4"/><rect x="638" y="383" width="2" height="8"/><rect x="638" y="132" width="2" height="9"/><rect x="257" y="376" width="4" height="1"/><rect x="644" y="376" width="3" height="1"/><rect x="257" y="358" width="4" height="1"/><rect x="644" y="358" width="3" height="1"/><rect x="257" y="341" width="4" height="1"/><rect x="644" y="341" width="3" height="1"/><rect x="257" y="323" width="4" height="1"/><rect x="644" y="323" width="3" height="1"/><rect x="257" y="305" width="9" height="2"/><rect x="639" y="305" width="8" height="2"/><rect x="257" y="288" width="4" height="1"/><rect x="644" y="288" width="3" height="1"/><rect x="257" y="270" width="4" height="1"/><rect x="644" y="270" width="3" height="1"/><rect x="257" y="253" width="4" height="1"/><rect x="644" y="253" width="3" height="1"/><rect x="257" y="235" width="4" height="1"/><rect x="644" y="235" width="3" height="1"/><rect x="257" y="217" width="9" height="2"/><rect x="639" y="217" width="8" height="2"/><rect x="257" y="200" width="4" height="1"/><rect x="644" y="200" width="3" height="1"/><rect x="257" y="182" width="4" height="1"/><rect x="644" y="182" width="3" height="1"/><rect x="257" y="164" width="4" height="1"/><rect x="644" y="164" width="3" height="1"/><rect x="257" y="147" width="4" height="1"/><rect x="644" y="147" width="3" height="1"/></g>
<!-- text -->
<g stroke="#fff" stroke-width="0.35"><text x="343.65" y="84.8" font-size="30" text-anchor="middle">v</text><text x="360.20" y="84.8" font-size="30" text-anchor="middle">e</text><text x="374.60" y="84.8" font-size="30" text-anchor="middle">r</text><text x="387.45" y="84.8" font-size="30" text-anchor="middle">t</text><text x="396.40" y="84.8" font-size="30" text-anchor="middle">i</text><text x="408.65" y="84.8" font-size="30" text-anchor="middle">c</text><text x="425.75" y="84.8" font-size="30" text-anchor="middle">a</text><text x="439.70" y="84.8" font-size="30" text-anchor="middle">l</text><text x="465.95" y="84.8" font-size="30" text-anchor="middle">v</text><text x="482.20" y="84.8" font-size="30" text-anchor="middle">e</text><text x="494.00" y="84.8" font-size="30" text-anchor="middle">l</text><text x="507.40" y="84.8" font-size="30" text-anchor="middle">o</text><text x="525.25" y="84.8" font-size="30" text-anchor="middle">c</text><text x="537.20" y="84.8" font-size="30" text-anchor="middle">i</text><text x="546.30" y="84.8" font-size="30" text-anchor="middle">t</text><text x="560.55" y="84.8" font-size="30" text-anchor="middle">y</text></g><text x="379.45" y="468.7" font-size="24" text-anchor="middle">X</text><text x="414.60" y="468.7" font-size="24" text-anchor="middle">c</text><text x="429.40" y="468.7" font-size="24" text-anchor="middle">o</text><text x="444.45" y="468.7" font-size="24" text-anchor="middle">o</text><text x="456.30" y="468.7" font-size="24" text-anchor="middle">r</text><text x="468.50" y="468.7" font-size="24" text-anchor="middle">d</text><text x="478.80" y="468.7" font-size="24" text-anchor="middle">i</text><text x="489.25" y="468.7" font-size="24" text-anchor="middle">n</text><text x="502.90" y="468.7" font-size="24" text-anchor="middle">a</text><text x="515.85" y="468.7" font-size="24" text-anchor="middle">t</text><text x="526.30" y="468.7" font-size="24" text-anchor="middle">e</text><rect x="388.5" y="459.7" width="17.3" height="1.8" fill="#000"/><g transform="translate(218.5,339.6) rotate(-90)"><text x="6.05" y="0" font-size="24" text-anchor="middle">Z</text><text x="41.90" y="0" font-size="24" text-anchor="middle">c</text><text x="56.25" y="0" font-size="24" text-anchor="middle">o</text><text x="71.35" y="0" font-size="24" text-anchor="middle">o</text><text x="83.20" y="0" font-size="24" text-anchor="middle">r</text><text x="95.50" y="0" font-size="24" text-anchor="middle">d</text><text x="105.20" y="0" font-size="24" text-anchor="middle">i</text><text x="115.35" y="0" font-size="24" text-anchor="middle">n</text><text x="129.20" y="0" font-size="24" text-anchor="middle">a</text><text x="142.15" y="0" font-size="24" text-anchor="middle">t</text><text x="152.55" y="0" font-size="24" text-anchor="middle">e</text><rect x="16.1" y="-9.0" width="16.8" height="1.8" fill="#000"/></g>
<g stroke="#000" stroke-width="0.5">
<text x="164.5" y="108.3" font-size="16" textLength="87" lengthAdjust="spacing">(x1E4 m)</text>
<text x="567.5" y="436.3" font-size="16" textLength="87" lengthAdjust="spacing">(x1E5 m)</text>
</g>
<text x="656" y="143" font-size="16" textLength="100.5" lengthAdjust="spacing">t=154200 s</text>
<g font-size="19.5" text-anchor="middle" stroke="#000" stroke-width="0.5">
<text x="332.5" y="415">1</text><text x="409" y="415">2</text><text x="485.5" y="415">3</text><text x="562" y="415">4</text><text x="638.5" y="415">5</text>
<text x="240" y="313">1</text><text x="240" y="224">2</text>
</g>
<g font-size="18" stroke="#000" stroke-width="0.5">
<text x="687" y="247">15</text><text x="687" y="300">6</text><text x="687" y="329">1</text><text x="686.5" y="347" textLength="22.5" lengthAdjust="spacing">−2</text><text x="686.5" y="389" textLength="22.5" lengthAdjust="spacing">−9</text>
</g>
<!-- colorbar -->
<g shape-rendering="crispEdges"><rect x="664" y="196" width="13" height="44" fill="#ffc0c0"/><rect x="664" y="240" width="13" height="19" fill="#ff7878"/><rect x="664" y="259" width="13" height="18" fill="#ff1010"/><rect x="664" y="277" width="13" height="17" fill="#ff6000"/><rect x="664" y="294" width="13" height="18" fill="#ffa000"/><rect x="664" y="312" width="13" height="6" fill="#ffd010"/><rect x="664" y="318" width="13" height="6" fill="#ffff10"/><rect x="664" y="324" width="13" height="6" fill="#dfff00"/><rect x="664" y="330" width="13" height="6" fill="#00efff"/><rect x="664" y="336" width="13" height="6" fill="#0040ff"/><rect x="664" y="342" width="13" height="5" fill="#0000b0"/><rect x="664" y="347" width="13" height="18" fill="#7000b0"/><rect x="664" y="365" width="13" height="18" fill="#b000b0"/><rect x="664" y="383" width="13" height="9" fill="#f010b0"/><rect x="664" y="239" width="13" height="2" fill="#000"/><rect x="664" y="258" width="13" height="2" fill="#000"/><rect x="664" y="276" width="13" height="2" fill="#000"/><rect x="664" y="293" width="13" height="2" fill="#000"/><rect x="664" y="311" width="13" height="2" fill="#000"/><rect x="664" y="317" width="13" height="2" fill="#000"/><rect x="664" y="323" width="13" height="2" fill="#000"/><rect x="664" y="329" width="13" height="2" fill="#000"/><rect x="664" y="335" width="13" height="2" fill="#000"/><rect x="664" y="341" width="13" height="2" fill="#000"/><rect x="664" y="346" width="13" height="2" fill="#000"/><rect x="664" y="364" width="13" height="2" fill="#000"/><rect x="664" y="382" width="13" height="2" fill="#000"/><rect x="664" y="196" width="13" height="196" fill="none" stroke="#000" stroke-width="2"/></g><path d="M664,196 L670.5,167.5 L677,196 Z" fill="#ffe0e0" stroke="#000" stroke-width="2" stroke-linejoin="miter"/>
</svg>
</body></html>
